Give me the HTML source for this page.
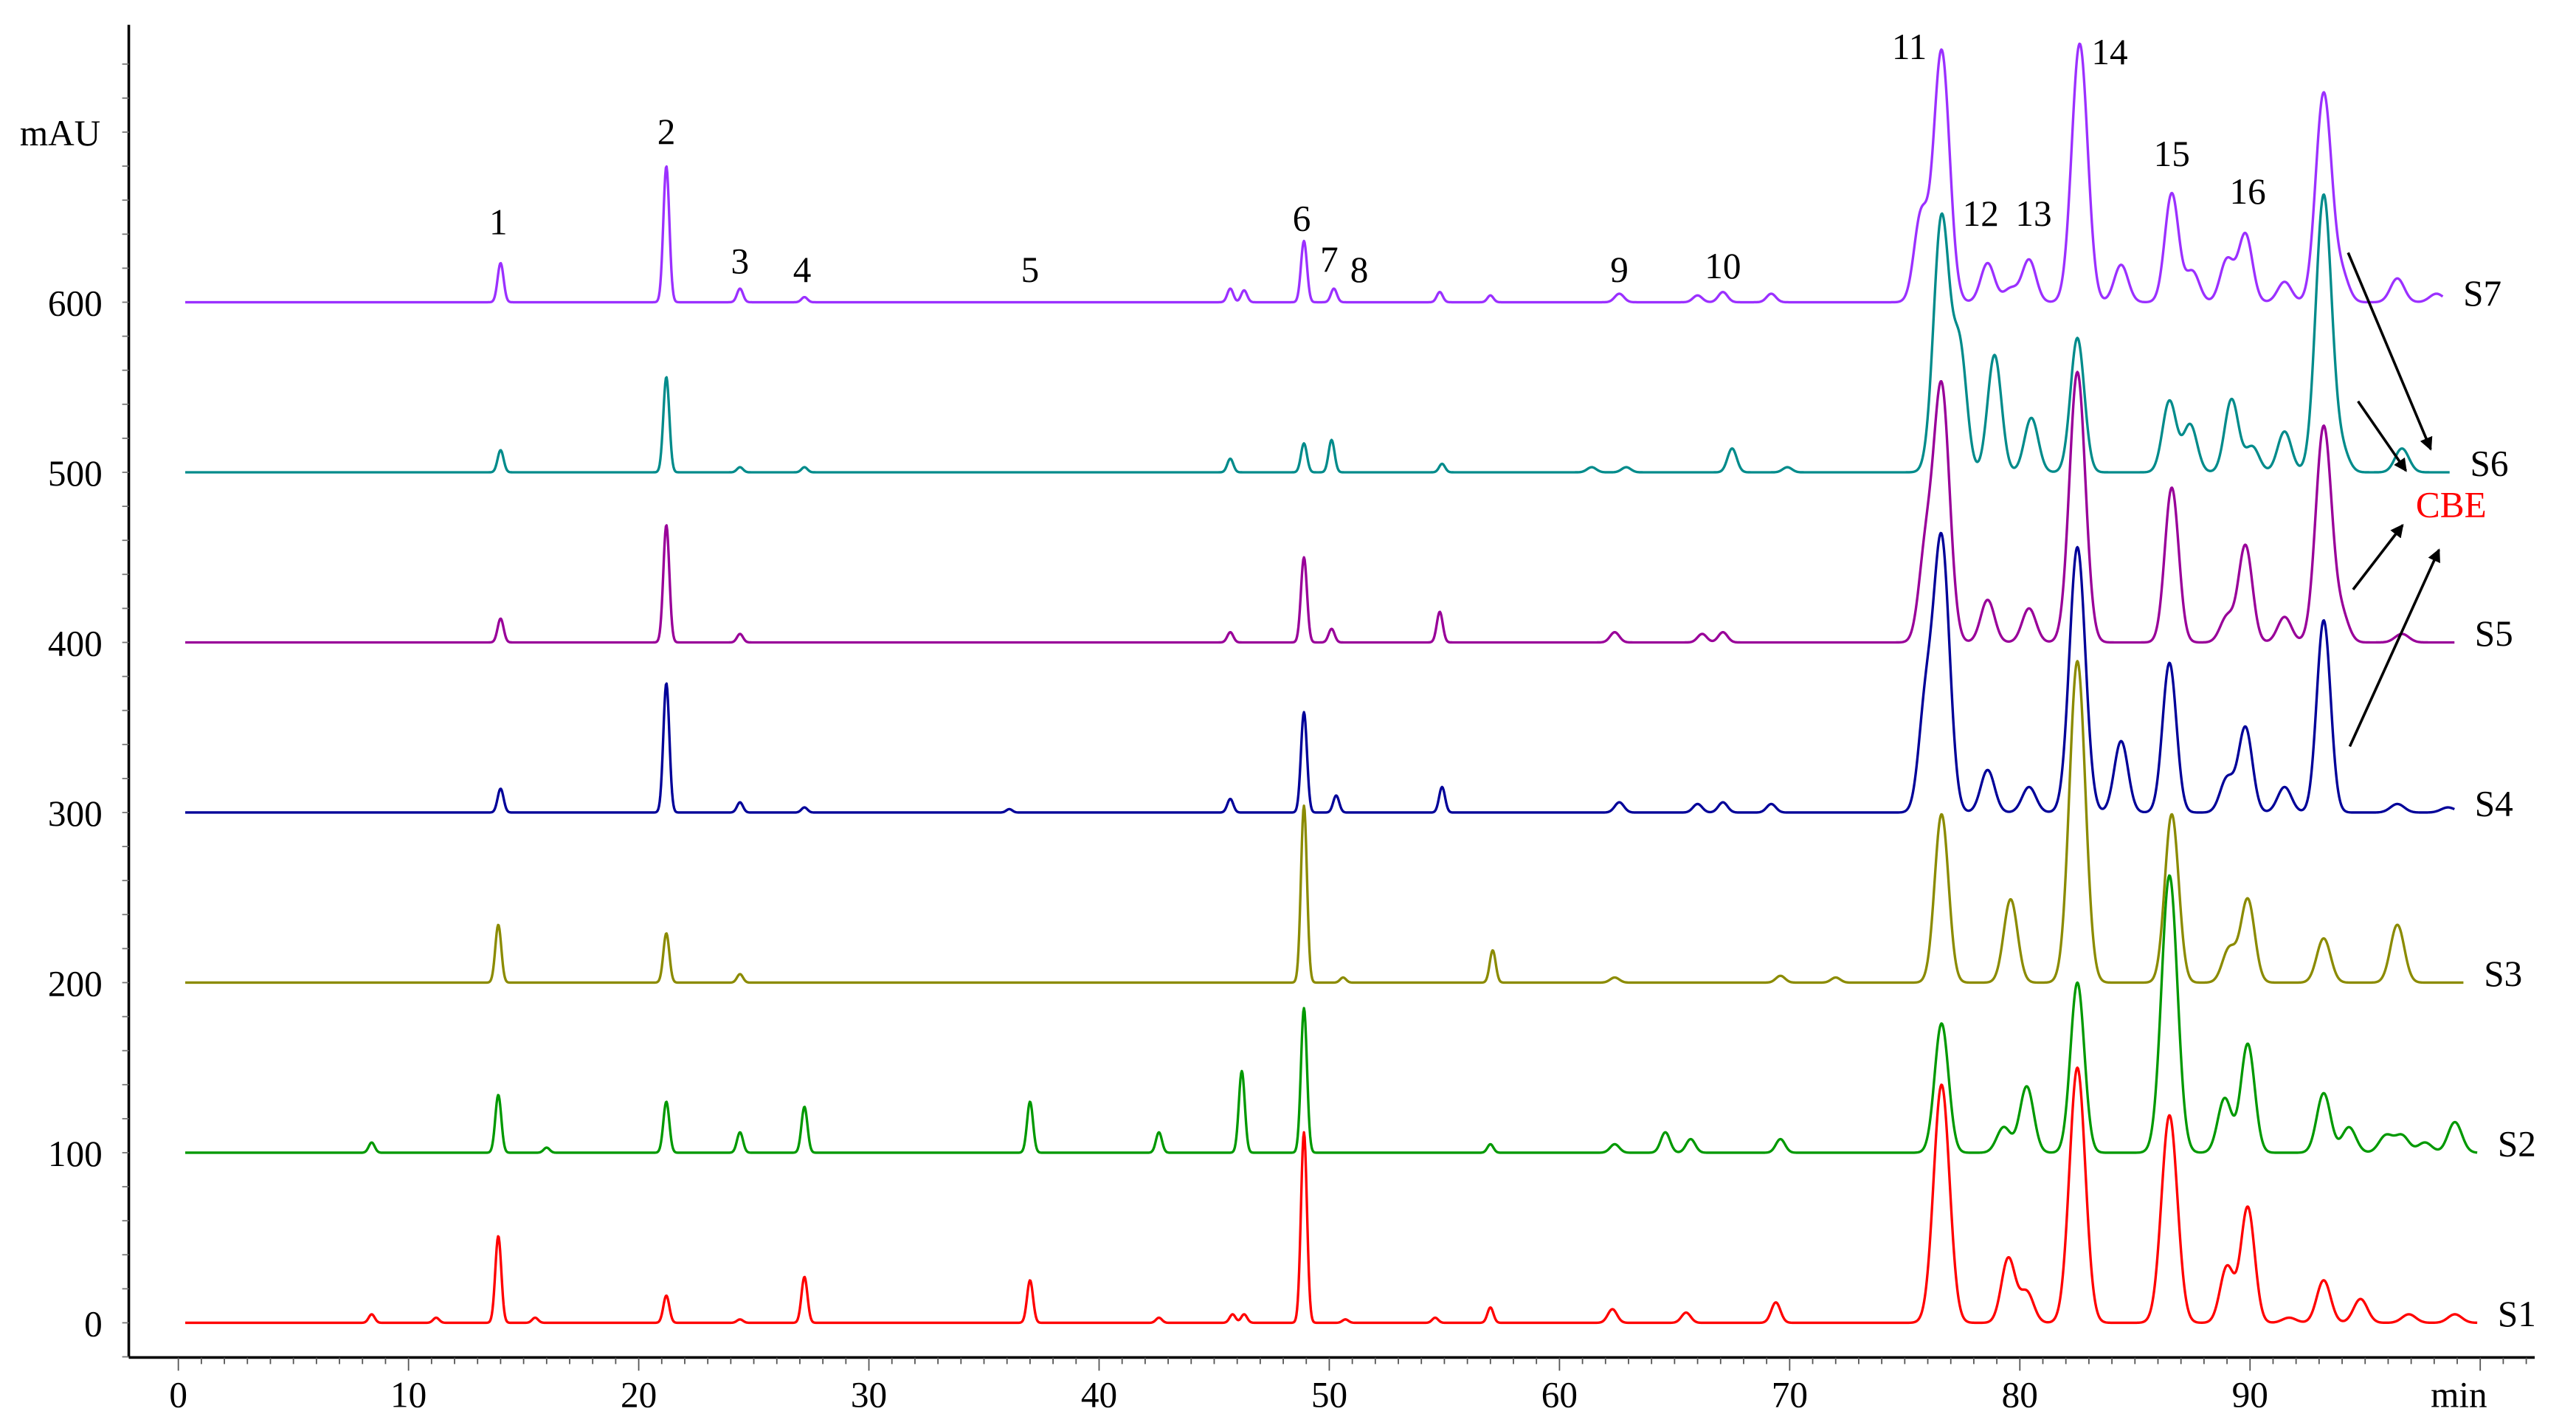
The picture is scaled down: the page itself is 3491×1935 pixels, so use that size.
<!DOCTYPE html>
<html><head><meta charset="utf-8">
<style>html,body{margin:0;padding:0;background:#fff;}svg{display:block;}
text{font-family:"Liberation Serif",serif;}</style></head>
<body>
<svg id="chart" width="3491" height="1935" viewBox="0 0 1560 864.7" preserveAspectRatio="none" xmlns="http://www.w3.org/2000/svg">
<g id="axes"></g>
<g id="traces"></g>
<g id="labels"></g>
</svg>
<script>
// ---- data ----
const sampleNames = ["S1","S2","S3","S4","S5","S6","S7"];
const sampleOffsets = [0,100,200,300,400,500,600];
const sampleColors = ["#ff0000","#009900","#8b8b00","#000099","#990099","#008b8b","#9b30ff"];
const sampleEnd = [99.9,99.9,99.3,98.9,98.9,98.7,98.4];
const s1Times = [8.4,11.2,13.9,15.5,21.2,24.4,27.2,37,42.6,45.8,46.3,48.9,50.7,54.6,57,62.3,65.5,69.4,76.6,79.5,80.3,82.5,86.5,89,89.9,91.7,93.2,94.8,96.9,98.9];
const s1Heights = [5,3,51,3,16,2,27,25,3,5,5,112,2,3,9,8,6,12,140,38,18,150,122,33,68,3,25,14,5,5];
const s2Times = [8.4,13.9,16,21.2,24.4,27.2,37,42.6,46.2,48.9,57,62.4,64.6,65.7,69.6,76.6,79.3,80.3,82.5,86.5,88.9,89.9,93.2,94.3,95.9,96.6,97.6,98.9];
const s2Heights = [6,34,3,30,12,27,30,12,48,85,5,5,12,8,8,76,15,39,100,163,32,64,35,15,10,10,6,18];
const s3Times = [13.9,21.2,24.4,48.9,50.6,57.1,62.4,69.6,72,76.6,79.6,82.5,86.6,89.1,89.9,93.2,96.4];
const s3Heights = [34,29,5,104,3,19,3,4,3,99,49,189,99,20,49,26,34];
const s4Times = [14,21.2,24.4,27.2,36.1,45.7,48.9,50.3,54.9,62.6,66,67.1,69.2,75.9,76.6,78.6,80.4,82.5,84.4,86.5,89,89.8,91.5,93.2,96.4,98.6];
const s4Heights = [14,76,6,3,2,8,59,10,15,6,5,6,5,60,160,25,15,156,42,88,20,50,15,113,5,3];
const s5Times = [14,21.2,24.4,45.7,48.9,50.1,54.8,62.4,66.2,67.1,75.9,76.6,78.6,80.4,82.5,86.6,89,89.8,91.5,93.2,94,96.6];
const s5Heights = [14,69,5,6,50,8,18,6,5,6,50,150,25,20,159,91,15,57,15,127,15,5];
const s6Times = [14,21.2,24.4,27.2,45.7,48.9,50.1,54.9,61.4,62.9,67.5,69.9,76.6,77.4,78.9,80.5,82.5,86.5,87.4,89.2,90.1,91.5,93.2,94,96.6];
const s6Heights = [13,56,3,3,8,17,19,5,3,3,14,3,150,70,69,32,79,42,28,43,15,24,163,12,14];
const s7Times = [14,21.2,24.4,27.2,45.7,46.3,48.9,50.2,54.8,57,62.6,66,67.1,69.2,75.7,76.6,78.6,79.6,80.4,82.6,84.4,86.6,87.5,89,89.8,91.5,93.2,94,96.4,98.1];
const s7Heights = [23,80,8,3,8,7,36,8,6,4,5,4,6,5,50,148,23,8,25,152,22,64,18,25,40,12,123,15,14,5];
const allTimes = [s1Times,s2Times,s3Times,s4Times,s5Times,s6Times,s7Times];
const allHeights = [s1Heights,s2Heights,s3Heights,s4Heights,s5Heights,s6Heights,s7Heights];
const xTicks = [0,10,20,30,40,50,60,70,80,90];
const yTicks = [0,100,200,300,400,500,600];
const peakLabels = ["1","2","3","4","5","6","7","8","9","10","11","12","13","14","15","16"];
const peakLabelTimes = [13.9,21.2,24.4,27.1,37,48.8,50,51.3,62.6,67.1,75.2,78.3,80.6,83.9,86.6,89.9];
const peakLabelValues = [640,693,617,612,612,642,618,612,612,614,743,645,645,740,680,658];

// ---- scales ----
const NS="http://www.w3.org/2000/svg";
const X = t => 108 + t*13.94;
const Y = v => 801 - v*1.03;
function mk(tag, attrs, parent){const e=document.createElementNS(NS,tag);for(const k in attrs)e.setAttribute(k,attrs[k]);parent.appendChild(e);return e;}
const axes=document.getElementById('axes'), traces=document.getElementById('traces'), labels=document.getElementById('labels');

// axes
let a=mk('line',{x1:78,y1:15,x2:78,y2:822,stroke:'#000','stroke-width':1.6},axes);

a=mk('line',{x1:78,y1:822,x2:1535,y2:822,stroke:'#000','stroke-width':1.6},axes);

for(let t=0;t<=102;t++){const x=X(t);if(x>1533)break;
 mk('line',{x1:x,y1:822,x2:x,y2:t%10===0?830:826,stroke:'#555','stroke-width':0.8},axes);}
for(let v=-20;v<=740;v+=20){mk('line',{x1:74,y1:Y(v),x2:78,y2:Y(v),stroke:'#777','stroke-width':0.8},axes);}
xTicks.forEach(t=>{const e=mk('text',{x:X(t),y:852,'font-size':22,'text-anchor':'middle'},axes);e.textContent=t;
 
 });
yTicks.forEach(v=>{const e=mk('text',{x:62,y:Y(v)+8,'font-size':22,'text-anchor':'end'},axes);e.textContent=v;
 
 });
a=mk('text',{x:12,y:88,'font-size':22},axes);a.textContent='mAU';

a=mk('text',{x:1472,y:852,'font-size':22},axes);a.textContent='min';


// traces
function sig(t){return t<60?0.13:(t<75?0.2:0.3);}
for(let s=0;s<7;s++){
 const tt=allTimes[s], hh=allHeights[s]; let d='';
 for(let t=0.3;t<=sampleEnd[s];t+=0.03){let v=sampleOffsets[s];
  for(let i=0;i<tt.length;i++){const sg=sig(tt[i])*(hh[i]>120&&tt[i]>75?1.15:1);const z=(t-tt[i])/sg;if(Math.abs(z)<6)v+=hh[i]*Math.exp(-0.5*z*z);}
  d+=(d?'L':'M')+X(t).toFixed(2)+','+Y(v).toFixed(2);}
 const p=mk('path',{d:d,fill:'none',stroke:sampleColors[s],'stroke-width':1.5,'stroke-linejoin':'round'},traces);
 
 
 const lb=mk('text',{x:X(sampleEnd[s])+12,y:Y(sampleOffsets[s])+2,'font-size':22},labels);lb.textContent=sampleNames[s];
 
 
}
// peak labels
peakLabels.forEach((l,i)=>{const e=mk('text',{x:X(peakLabelTimes[i]),y:Y(peakLabelValues[i]),'font-size':22,'text-anchor':'middle'},labels);e.textContent=l;
 
 });
// CBE + arrows
a=mk('text',{x:1463,y:313,'font-size':22,fill:'#ff0000'},labels);a.textContent='CBE';

const defs=mk('defs',{},document.getElementById('chart'));
const m=mk('marker',{id:'ah',markerWidth:8,markerHeight:8,refX:7,refY:4,orient:'auto',markerUnits:'userSpaceOnUse'},defs);
mk('path',{d:'M0,0L8,4L0,8z',fill:'#000'},m);
[[1422,153,1472,272],[1428,243,1457,285],[1425,357,1455,318],[1423,452,1477,333]].forEach(c=>{
 const e=mk('line',{x1:c[0],y1:c[1],x2:c[2],y2:c[3],stroke:'#000','stroke-width':1.6,'marker-end':'url(#ah)'},labels);
 
 });
</script>
</body></html>
